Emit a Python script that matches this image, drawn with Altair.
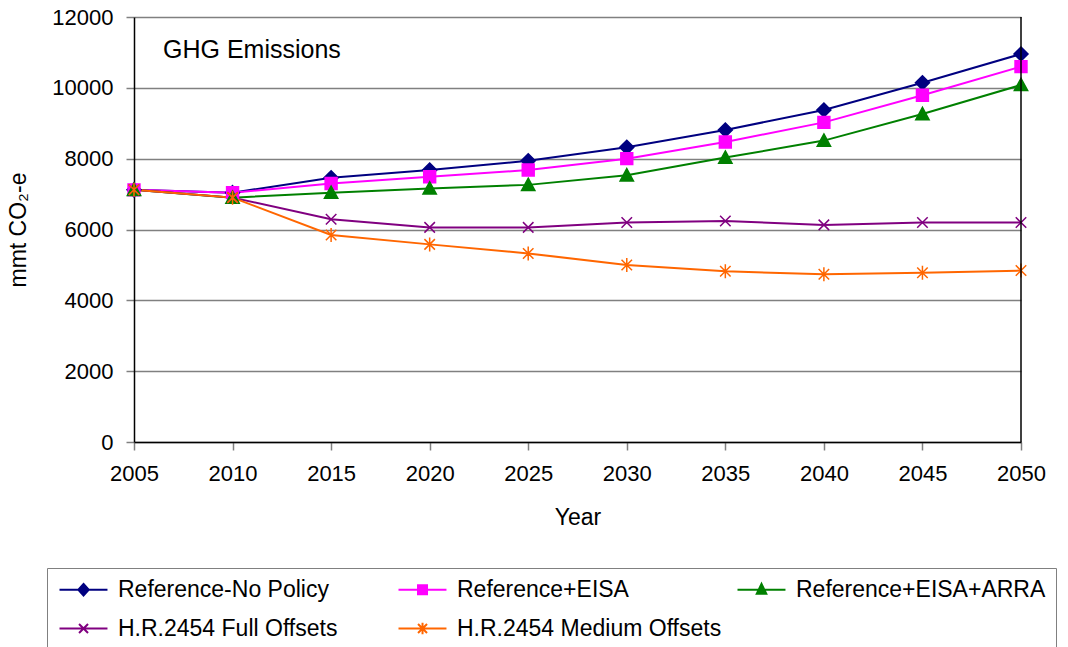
import altair as alt
import pandas as pd

years = [2005, 2010, 2015, 2020, 2025, 2030, 2035, 2040, 2045, 2050]

series_names = [
    "Reference-No Policy",
    "Reference+EISA",
    "Reference+EISA+ARRA",
    "H.R.2454 Full Offsets",
    "H.R.2454 Medium Offsets",
]

ref_no_policy = [7120, 7040, 7460, 7680, 7940, 8320, 8810, 9375, 10145, 10955]
ref_eisa = [7120, 7040, 7300, 7490, 7680, 8000, 8470, 9025, 9790, 10600]
ref_eisa_arra = [7120, 6900, 7040, 7160, 7260, 7530, 8030, 8510, 9260, 10080]
hr2454_full = [7120, 6900, 6290, 6060, 6060, 6195, 6240, 6130, 6195, 6195]
hr2454_medium = [7120, 6900, 5845, 5580, 5325, 5000, 4820, 4735, 4780, 4840]

colors = ["#000080", "#FF00FF", "#008000", "#800080", "#FF6600"]

# marker glyphs in the plot (unit square [-1, 1])
plot_shapes = [
    "M0,-1L1,0L0,1L-1,0Z",
    "M-0.85,-0.85H0.85V0.85H-0.85Z",
    "M0,-0.95L0.95,0.8H-0.95Z",
    "M-0.75,-0.75L0.75,0.75M-0.75,0.75L0.75,-0.75",
    "M-0.75,-0.75L0.75,0.75M-0.75,0.75L0.75,-0.75M0,-1L0,1",
]
# legend glyphs: a line running right from the symbol box, marker at its middle
# (unit = 9 px, line 48 px long, marker centred 24 px from its start)
legend_shapes = [
    "M-1,0H4.33M1.67,-0.65L2.25,0L1.67,0.65L1.09,0Z",
    "M-1,0H4.33M1.17,-0.5H2.17V0.5H1.17Z",
    "M-1,0H4.33M1.67,-0.65L2.2,0.45H1.14Z",
    "M-1,0H4.33M1.17,-0.5L2.17,0.5M1.17,0.5L2.17,-0.5",
    "M-1,0H4.33M1.17,-0.5L2.17,0.5M1.17,0.5L2.17,-0.5M1.67,-0.65L1.67,0.65",
]

values = [ref_no_policy, ref_eisa, ref_eisa_arra, hr2454_full, hr2454_medium]
rows = []
for i, (name, vals) in enumerate(zip(series_names, values)):
    for yr, v in zip(years, vals):
        rows.append({"Year": yr, "Value": v, "Series": name, "Order": i})
df = pd.DataFrame(rows)

FONT = "Liberation Sans"
W, H = 887, 425

x_enc = alt.X(
    "Year:Q",
    scale=alt.Scale(domain=[2005, 2050], nice=False, zero=False),
    axis=alt.Axis(
        values=years, format="d", title="Year", grid=False, labelFlush=False,
        domainColor="black", domainWidth=1.5,
        tickColor="#808080", tickSize=8, tickWidth=1.5,
        labelPadding=13, titlePadding=22,
    ),
)
y_enc = alt.Y(
    "Value:Q",
    scale=alt.Scale(domain=[0, 12000], nice=False),
    axis=alt.Axis(
        values=list(range(0, 12001, 2000)), format="d", title="mmt CO₂-e",
        grid=True, gridColor="#808080", gridWidth=1.5, labelFlush=False,
        domainColor="black", domainWidth=1.5,
        tickColor="#808080", tickSize=8, tickWidth=1.5,
        labelPadding=13, titlePadding=21,
    ),
)

color_scale = alt.Scale(domain=series_names, range=colors)

base = alt.Chart(df)

lines = base.mark_line(strokeWidth=2).encode(
    x=x_enc, y=y_enc,
    color=alt.Color("Series:N", scale=color_scale, legend=None),
    order="Order:Q",
    detail="Series:N",
)

points = base.mark_point(filled=True, size=196, strokeWidth=1.5, opacity=1).encode(
    x="Year:Q", y="Value:Q",
    fill=alt.Fill("Series:N", scale=color_scale, legend=None),
    stroke=alt.Stroke("Series:N", scale=color_scale, legend=None),
    shape=alt.Shape("Series:N", scale=alt.Scale(domain=series_names, range=plot_shapes), legend=None),
    order="Order:Q",
)

# empty layer that only carries the legend
legend_layer = base.transform_filter(alt.datum.Value < 0).mark_point(
    filled=True, strokeWidth=2, opacity=1
).encode(
    x="Year:Q", y="Value:Q",
    fill=alt.Fill("Series:N", scale=color_scale, legend=alt.Legend(title=None)),
    stroke=alt.Stroke("Series:N", scale=color_scale, legend=alt.Legend(title=None)),
    shape=alt.Shape(
        "Series:N",
        scale=alt.Scale(domain=series_names, range=legend_shapes),
        legend=alt.Legend(
            title=None, orient="none", legendX=-87, legendY=551,
            direction="horizontal", columns=3,
            symbolSize=324, symbolStrokeWidth=2, labelOffset=38,
            columnPadding=11, rowPadding=15, gridAlign="all",
            labelFontSize=23, labelFont=FONT, labelColor="black", labelLimit=400,
            strokeColor="#808080", padding=10, fillColor="white",
        ),
    ),
)

right_edge = alt.Chart(pd.DataFrame({"Year": [2050]})).mark_rule(color="black", strokeWidth=1.5).encode(
    x="Year:Q", y=alt.value(0), y2=alt.value(H)
)

title_text = alt.Chart(pd.DataFrame({"t": ["GHG Emissions"]})).mark_text(
    align="left", baseline="middle", fontSize=25, font=FONT, color="black"
).encode(x=alt.value(29), y=alt.value(33), text="t:N")

chart = alt.layer(lines, points, legend_layer, right_edge, title_text).resolve_scale(
    shape="independent", fill="independent", stroke="independent"
).properties(
    width=W, height=H,
    autosize=alt.AutoSizeParams(type="none"),
    padding={"left": 134, "top": 17, "right": 47, "bottom": 205},
).configure_view(stroke=None).configure_axis(
    labelFont=FONT, titleFont=FONT, labelFontSize=22, titleFontSize=23,
    labelColor="black", titleColor="black", titleFontWeight="normal",
)

chart.save("out.html", embed_options={"renderer": "svg", "actions": False})
